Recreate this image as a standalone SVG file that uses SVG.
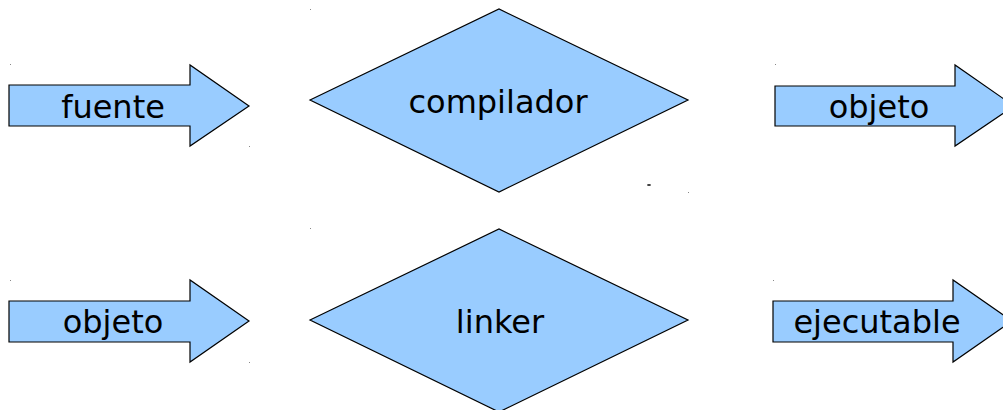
<svg xmlns="http://www.w3.org/2000/svg" width="1003" height="410" viewBox="0 0 1003 410">
<style>
.shape{fill:#99ccff;stroke:#000;stroke-width:1.2;stroke-linejoin:miter}
.lbl{font-family:"DejaVu Sans",Verdana,sans-serif;font-size:32px;fill:#000;text-anchor:middle}
.dot{fill:#888}
</style>
<rect width="1003" height="410" fill="#fff"/>
<g id="arrow-fuente">
<polygon class="shape" points="9,85 190,85 190,65 249,106 190,146 190,126 9,126"/>
<text class="lbl" x="113" y="118">fuente</text>
</g>
<g id="diamond-compilador">
<polygon class="shape" points="310,100 499,9 688,100 499,192"/>
<text class="lbl" x="498" y="113">compilador</text>
</g>
<g id="arrow-objeto-1">
<polygon class="shape" points="775,86 955,86 955,65 1014,106 955,146 955,126 775,126"/>
<text class="lbl" x="879" y="118">objeto</text>
</g>
<g id="arrow-objeto-2">
<polygon class="shape" points="9,301 190,301 190,280 249,321 190,362 190,342 9,342"/>
<text class="lbl" x="113" y="333">objeto</text>
</g>
<g id="diamond-linker">
<polygon class="shape" points="310,320 499,229 688,320 499,412"/>
<text class="lbl" x="500" y="333">linker</text>
</g>
<g id="arrow-ejecutable">
<polygon class="shape" points="773,301 953,301 953,280 1012,321 953,362 953,342 773,342"/>
<text class="lbl" x="877" y="333">ejecutable</text>
</g>
<g id="connectors"></g>
<g id="marks">
<rect class="dot" x="10" y="64" width="1" height="1"/>
<rect class="dot" x="310" y="9" width="1" height="1"/>
<rect class="dot" x="249" y="146" width="1" height="1"/>
<ellipse cx="649" cy="185" rx="2" ry="1" fill="#333"/>
<rect class="dot" x="688" y="192" width="1" height="1"/>
<rect class="dot" x="775" y="64" width="1" height="1"/>
<rect class="dot" x="10" y="280" width="1" height="1"/>
<rect class="dot" x="310" y="228" width="1" height="1"/>
<rect class="dot" x="249" y="362" width="1" height="1"/>
<rect class="dot" x="773" y="280" width="1" height="1"/>
</g>
</svg>
